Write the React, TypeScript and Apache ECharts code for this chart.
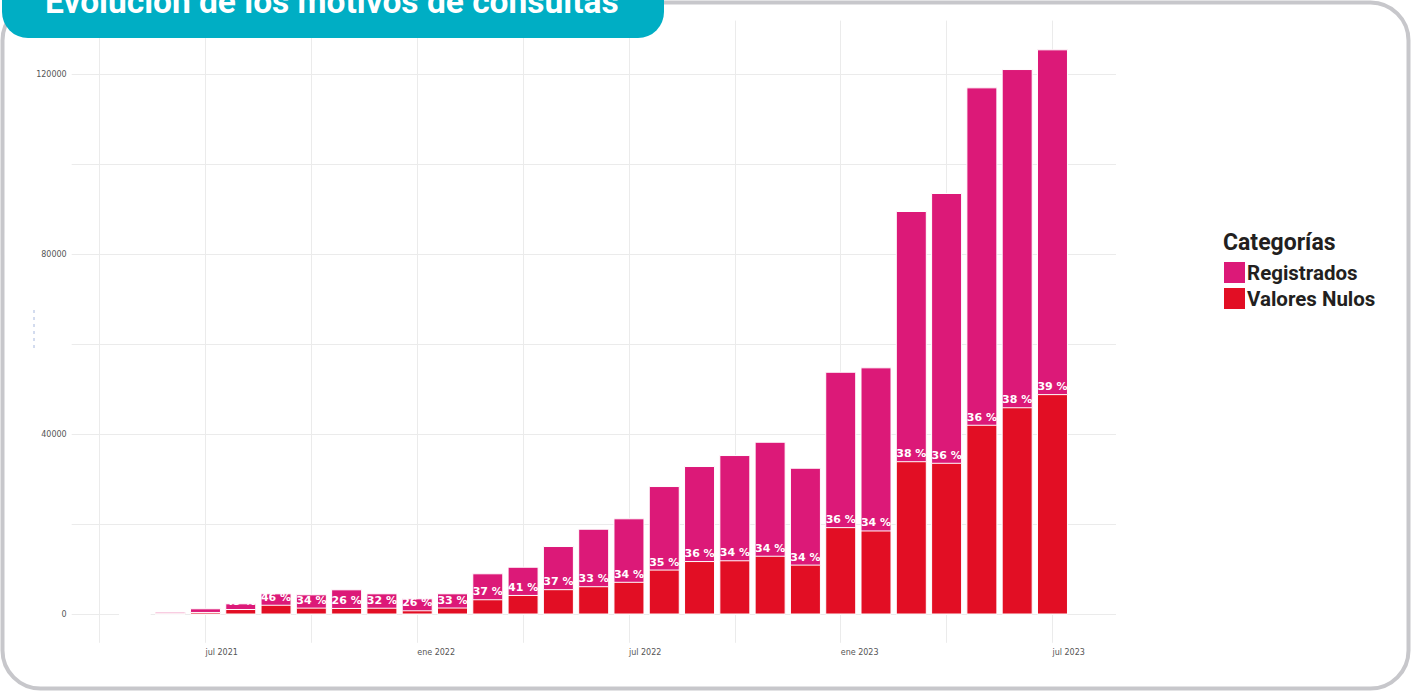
import React, { useEffect, useRef } from "react";
import * as echarts from "echarts";

// Meses (barras mensuales)
const meses = [
  "2021-05", "2021-06", "2021-07", "2021-08", "2021-09", "2021-10", "2021-11", "2021-12",
  "2022-01", "2022-02", "2022-03", "2022-04", "2022-05", "2022-06", "2022-07", "2022-08",
  "2022-09", "2022-10", "2022-11", "2022-12",
  "2023-01", "2023-02", "2023-03", "2023-04", "2023-05", "2023-06", "2023-07",
];

// Parte rosa (Registrados)
const registrados = [
  25, 340, 810, 1270, 2540, 2960, 4140, 3200,
  2660, 3160, 5770, 6270, 9590, 12780, 14110, 18560,
  21120, 23390, 25340, 21530,
  34530, 36250, 55600, 59950, 74980, 75160, 76620,
];

// Parte roja (Valores Nulos)
const valoresNulos = [
  15, 280, 570, 1220, 2170, 1530, 1460, 1510,
  940, 1550, 3390, 4350, 5630, 6290, 7270, 9990,
  11880, 12050, 13060, 11090,
  19420, 18680, 34070, 33720, 42170, 46060, 48980,
];

// Etiquetas del eje X
const fechasEtiquetas = ["2021-07", "2022-01", "2022-07", "2023-01", "2023-07"];
const textosEtiquetas = ["jul 2021", "ene 2022", "jul 2022", "ene 2023", "jul 2023"];
// Líneas guía verticales (cada 3 meses)
const fechasGuias = [
  "2021-04", "2021-07", "2021-10", "2022-01", "2022-04", "2022-07",
  "2022-10", "2023-01", "2023-04", "2023-07",
];

// Eje Y
const yEtiquetas = [0, 40000, 80000, 120000];
const yGuias = [0, 20000, 40000, 60000, 80000, 100000, 120000];

const PINK = "#DC1978";
const RED = "#E20E24";
const TEAL = "#00AEC4";

function idx(m: string): number {
  const [y, mo] = m.split("-").map(Number);
  return (y - 2021) * 12 + (mo - 1);
}

export default function App() {
  const ref = useRef<HTMLDivElement>(null);

  useEffect(() => {
    if (!ref.current) return;
    const chart = echarts.init(ref.current, undefined, { renderer: "svg" });
    const xLabelVals = fechasEtiquetas.map(idx);
    const option: any = {
      animation: false,
      backgroundColor: "#ffffff",
      grid: { left: 71.7, right: 295, top: 20.6, bottom: 48.2, containLabel: false },
      legend: {
        data: ["Registrados", "Valores Nulos"],
        orient: "vertical",
        left: 1224,
        top: 262,
        padding: 0,
        itemWidth: 21,
        itemHeight: 21,
        itemGap: 5,
        icon: "rect",
        itemStyle: { borderWidth: 0 },
        selectedMode: false,
        textStyle: {
          fontFamily: "Roboto",
          fontWeight: "bold",
          fontSize: 20.5,
          color: "#231f20",
          padding: [0, 0, 0, -3],
        },
      },
      xAxis: {
        type: "value",
        min: 2.21,
        max: 31.8,
        axisLine: { show: false },
        axisTick: { show: false, customValues: fechasGuias.map(idx) },
        axisLabel: {
          customValues: xLabelVals,
          formatter: (v: number) => {
            const k = xLabelVals.indexOf(Math.round(v));
            return k >= 0 ? textosEtiquetas[k] : "";
          },
          align: "left",
          fontSize: 8,
          color: "#555555",
          fontFamily: "DejaVu Sans",
          margin: 6,
        },
        splitLine: { show: true, lineStyle: { color: "#ebebeb", width: 1 } },
      },
      yAxis: {
        type: "value",
        min: -6285,
        max: 131985,
        axisLine: { show: false },
        axisTick: { show: false, customValues: yGuias },
        axisLabel: {
          customValues: yEtiquetas,
          formatter: (v: number) => String(v),
          fontSize: 8,
          color: "#555555",
          fontFamily: "DejaVu Sans",
          margin: 5,
        },
        splitLine: { show: true, lineStyle: { color: "#ebebeb", width: 1 } },
      },
      series: [
        {
          name: "Registrados",
          type: "bar",
          barWidth: 31,
          barGap: "-100%",
          // barra completa: Registrados apilado sobre Valores Nulos
          data: meses.map((m, i) => [idx(m), registrados[i] + valoresNulos[i]]),
          itemStyle: { color: PINK, borderColor: "#ffffff", borderWidth: 1 },
          z: 2,
        },
        {
          name: "Valores Nulos",
          type: "bar",
          barWidth: 31,
          barGap: "-100%",
          data: meses.map((m, i) => [idx(m), valoresNulos[i]]),
          itemStyle: { color: RED, borderColor: "#ffffff", borderWidth: 1 },
          label: {
            show: true,
            position: "top",
            distance: 2,
            color: "#ffffff",
            fontWeight: "bold",
            fontSize: 11,
            fontFamily: "DejaVu Sans",
            formatter: (p: any) => {
              const i = p.dataIndex;
              const t = valoresNulos[i] + registrados[i];
              return Math.round((valoresNulos[i] / t) * 100) + " %";
            },
          },
          z: 3,
        },
      ],
      graphic: [
        {
          type: "rect",
          shape: { x: 2.5, y: 2.5, width: 1406, height: 686, r: 38 },
          style: { fill: "none", stroke: "#c7c7cb", lineWidth: 4 },
          z: 100,
        },
        {
          type: "rect",
          shape: { x: 2, y: -40, width: 662, height: 78, r: 26 },
          style: { fill: TEAL },
          z: 101,
        },
        {
          type: "text",
          x: 45,
          y: 1,
          style: {
            text: "Evolución de los motivos de consultas",
            fill: "#ffffff",
            fontFamily: "Roboto",
            fontWeight: "bold",
            fontSize: 33.5,
            verticalAlign: "middle",
          },
          z: 102,
        },
        {
          type: "text",
          x: 1223,
          y: 242,
          style: {
            text: "Categorías",
            fill: "#231f20",
            fontFamily: "Roboto",
            fontWeight: "bold",
            fontSize: 23,
            verticalAlign: "middle",
          },
          z: 102,
        },
        {
          type: "line",
          shape: { x1: 34, y1: 310, x2: 34, y2: 350 },
          style: { stroke: "#a7b8de", lineWidth: 1, lineDash: [3, 4] },
          z: 102,
        },
      ],
    };
    chart.setOption(option);
    return () => chart.dispose();
  }, []);

  return (
    <div
      ref={ref}
      style={{ position: "fixed", left: 0, top: 0, width: 1411, height: 691, background: "#fff" }}
    />
  );
}
